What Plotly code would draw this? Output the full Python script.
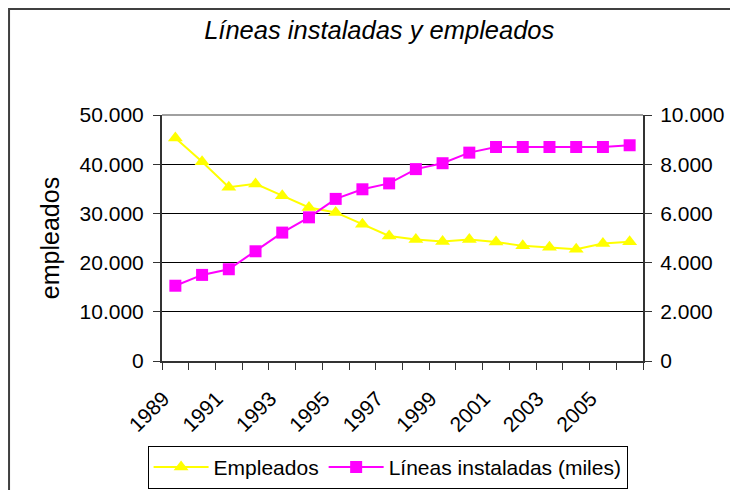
import plotly.graph_objects as go

years = list(range(1989, 2007))
empleados = [45300, 40500, 35300, 36000, 33600, 31200, 30200, 27800, 25400,
             24700, 24300, 24700, 24200, 23400, 23100, 22700, 23900, 24250]
lineas = [3060, 3500, 3730, 4460, 5220, 5840, 6590, 6980, 7220,
          7800, 8040, 8470, 8700, 8700, 8700, 8700, 8700, 8770]

label_years = list(range(1989, 2006, 2))

fig = go.Figure()
fig.add_trace(go.Scatter(
    x=years, y=empleados, name="Empleados", mode="lines+markers",
    line=dict(color="#FFFF00", width=2),
    marker=dict(symbol="triangle-up", size=13, color="#FFFF00"),
))
fig.add_trace(go.Scatter(
    x=years, y=lineas, name="Líneas instaladas (miles)", mode="lines+markers",
    line=dict(color="#FF00FF", width=2),
    marker=dict(symbol="square", size=12, color="#FF00FF"),
    yaxis="y2",
))

FONT = "Liberation Sans, Arial, sans-serif"
axis_font = dict(family=FONT, size=21, color="black")

# page body has an 8px margin, so the figure is offset by (8, 8)
fig.update_layout(
    width=738, height=490,
    margin=dict(l=154, r=103, t=107, b=137, autoexpand=False),
    paper_bgcolor="white", plot_bgcolor="white",
    separators=",.",
    font=axis_font,
    title=dict(text="<i>Líneas instaladas y empleados</i>", x=0.503, xanchor="center",
               y=0.955, yanchor="middle", font=dict(family=FONT, size=25.5)),
    xaxis=dict(
        range=[1988.5, 2006.5], tickmode="array", tickvals=label_years,
        ticktext=[str(y) for y in label_years], tickangle=-45,
        ticks="outside", ticklen=0, showgrid=False, zeroline=False,
        showline=True, linecolor="#333333", linewidth=2, automargin=False,
        minor=dict(tickmode="linear", tick0=1988.5, dtick=1, ticks="outside",
                   ticklen=7, tickcolor="#333333", showgrid=False),
        ticklabelstandoff=15, ticklabelshift=-12,
    ),
    yaxis=dict(
        range=[0, 50000], dtick=10000, tickformat=",d", automargin=False,
        showgrid=True, gridcolor="black", gridwidth=1, zeroline=False,
        showline=True, linecolor="#333333", linewidth=2,
        ticks="outside", ticklen=7, tickcolor="#333333", ticklabelstandoff=5,
        title=dict(text="empleados", standoff=13,
                   font=dict(family=FONT, size=25, color="black")),
    ),
    yaxis2=dict(
        range=[0, 10000], dtick=2000, tickformat=",d", overlaying="y", side="right",
        showgrid=False, zeroline=False, automargin=False,
        showline=True, linecolor="#333333", linewidth=2,
        ticks="outside", ticklen=7, tickcolor="#333333", ticklabelstandoff=4,
    ),
    showlegend=True,
    legend=dict(
        orientation="h", x=0.469, xanchor="center", y=-0.345, yanchor="top",
        bordercolor="black", borderwidth=1, itemwidth=55,
        font=dict(family=FONT, size=21), traceorder="normal",
    ),
    shapes=[
        # plot area top border
        dict(type="line", xref="paper", yref="paper", x0=0, x1=1, y0=1, y1=1,
             line=dict(color="#A0A0A0", width=2)),
        # chart frame
        dict(type="rect", xref="paper", yref="paper", x0=-0.318, x1=1.25,
             y0=-0.6, y1=1.431, line=dict(color="#404040", width=2)),
    ],
)

fig.write_html("out.html")
